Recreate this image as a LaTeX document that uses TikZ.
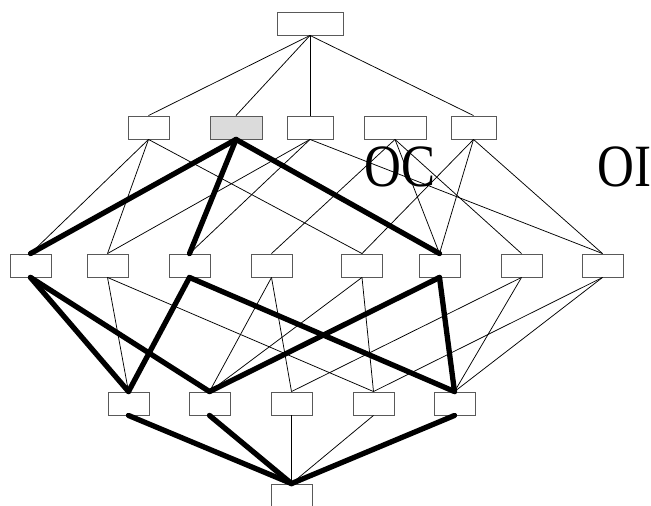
\documentclass[tikz,border=0pt]{standalone}
\usepackage{graphicx}
\usepackage{fontspec}
\setmainfont{Liberation Serif}
\begin{document}
\begin{tikzpicture}[x=1pt,y=-1pt,
  box/.style={draw=black!65,line width=0.9pt,fill=white,inner sep=0pt,minimum height=23pt,minimum width=41pt},
  light/.style={draw=black,line width=0.75pt},
  heavy/.style={draw=black,line width=5.3pt,line cap=round},
  biglabel/.style={font=\fontsize{60}{60}\selectfont,inner sep=0pt,anchor=base west}]
\clip (0,0) rectangle (651,506);
\fill[white] (0,0) rectangle (651,506);
% nodes
\node[box,minimum width=66pt] (T) at (310,23.5) {};
\node[box] (A1) at (148.5,127.5) {};
\node[box,minimum width=52pt,fill=black!14] (A2) at (236,127.5) {};
\node[box,minimum width=46pt] (A3) at (310,127.5) {};
\node[box,minimum width=62pt] (A4) at (395,127.5) {};
\node[box,minimum width=45pt] (A5) at (473.5,127.5) {};
\node[box] (B1) at (30.5,265.5) {};
\node[box] (B2) at (107.5,265.5) {};
\node[box] (B3) at (189.5,265.5) {};
\node[box] (B4) at (271.5,265.5) {};
\node[box] (B5) at (362,265.5) {};
\node[box] (B6) at (439.5,265.5) {};
\node[box] (B7) at (521.5,265.5) {};
\node[box] (B8) at (602.5,265.5) {};
\node[box] (C1) at (128.5,403.5) {};
\node[box] (C2) at (209.5,403.5) {};
\node[box] (C3) at (291.5,403.5) {};
\node[box] (C4) at (373.5,403.5) {};
\node[box] (C5) at (454.5,403.5) {};
\node[box] (D) at (291.5,495.5) {};
% thin edges
\foreach \u/\v in {T/A1,T/A2,T/A3,T/A5,
  A1/B1,A1/B2,A1/B5,A3/B2,A3/B3,A3/B8,A4/B4,A4/B6,A4/B7,A5/B5,A5/B6,A5/B8,
  B2/C1,B2/C4,B4/C2,B4/C3,B5/C2,B5/C4,B7/C3,B7/C5,B8/C4,B8/C5,
  C3/D,C4/D}
  \draw[light] (\u.south) -- (\v.north);
% thick edges
\foreach \u/\v in {A2/B1,A2/B3,A2/B6,B1/C1,B1/C2,B3/C1,B3/C5,B6/C2,B6/C5,C1/D,C2/D,C5/D}
  \draw[heavy] (\u.south) -- (\v.north);
% labels
\node[biglabel] (OC) at (364,186) {\scalebox{0.85}[1]{OC}};
\node[biglabel] (OI) at (597,186) {\scalebox{0.85}[1]{OI}};
\end{tikzpicture}
\end{document}
